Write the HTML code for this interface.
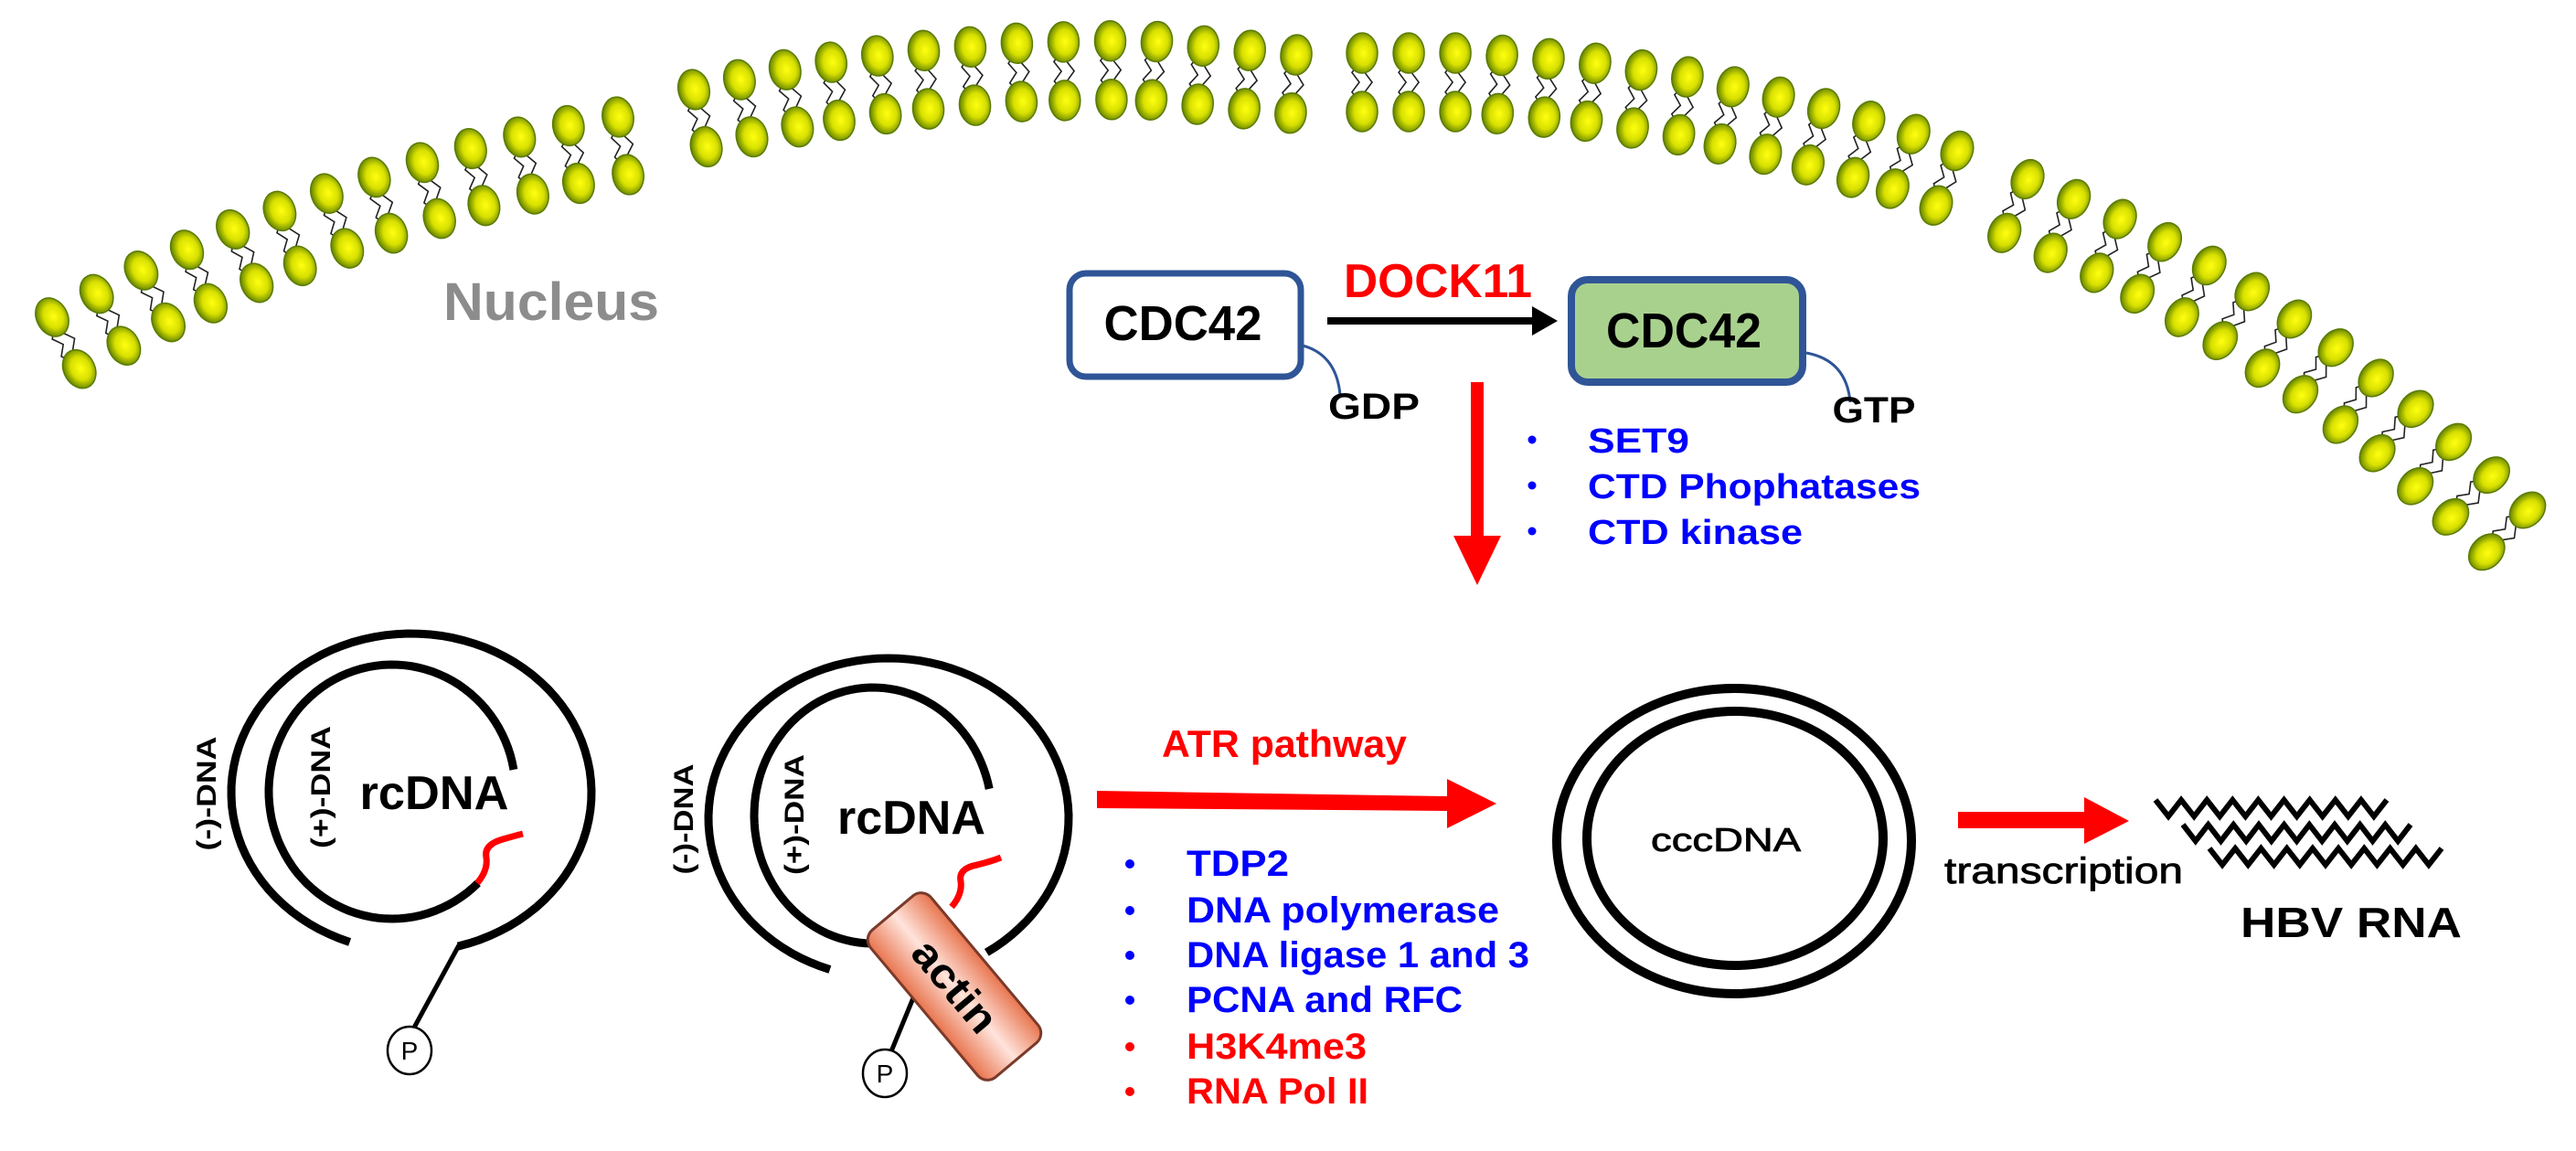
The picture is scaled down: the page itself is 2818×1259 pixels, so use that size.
<!DOCTYPE html>
<html><head><meta charset="utf-8"><style>
html,body{margin:0;padding:0;background:#fff;overflow:hidden}
svg{display:block}
text{font-family:"Liberation Sans",Arial,sans-serif;font-weight:bold}
</style></head><body>
<svg id="s" xmlns="http://www.w3.org/2000/svg" width="2818" height="1259" viewBox="0 0 2818 1259">
<defs>
<radialGradient id="hg" cx="50%" cy="45%" r="55%">
<stop offset="0" stop-color="#ffff10"/><stop offset="0.55" stop-color="#d8e000"/><stop offset="1" stop-color="#5f8000"/>
</radialGradient>
<linearGradient id="ag" x1="0" y1="0" x2="0" y2="1">
<stop offset="0" stop-color="#e8744e"/><stop offset="0.5" stop-color="#ffe4dc"/><stop offset="1" stop-color="#e8744e"/>
</linearGradient>
</defs>
<g id="mem"></g>

<text x="603" y="350" font-size="58" fill="#8c8c8c" text-anchor="middle" textLength="236" lengthAdjust="spacingAndGlyphs">Nucleus</text>

<rect x="1170" y="299" width="253" height="113" rx="18" fill="#fff" stroke="#2f5597" stroke-width="7"/>
<text x="1294" y="372" font-size="54" text-anchor="middle" textLength="173" lengthAdjust="spacingAndGlyphs">CDC42</text>
<path d="M1425 378 Q1462 388 1466 432" fill="none" stroke="#2f5597" stroke-width="3"/>
<text x="1503" y="458" font-size="40" text-anchor="middle" textLength="100" lengthAdjust="spacingAndGlyphs">GDP</text>
<line x1="1452" y1="351" x2="1682" y2="351" stroke="#000" stroke-width="8"/>
<polygon points="1676,335 1704,351 1676,367" fill="#000"/>
<text x="1573" y="325" font-size="52" fill="#ff0000" text-anchor="middle" textLength="206" lengthAdjust="spacingAndGlyphs">DOCK11</text>
<rect x="1719" y="306" width="253" height="112" rx="18" fill="#a9d18e" stroke="#2f5597" stroke-width="8"/>
<text x="1842" y="380" font-size="54" text-anchor="middle" textLength="170" lengthAdjust="spacingAndGlyphs">CDC42</text>
<path d="M1976 386 Q2020 394 2024 440" fill="none" stroke="#2f5597" stroke-width="3"/>
<text x="2050" y="462" font-size="40" text-anchor="middle" textLength="91" lengthAdjust="spacingAndGlyphs">GTP</text>
<rect x="1609" y="418" width="14" height="172" fill="#ff0000"/>
<polygon points="1590,586 1642,586 1616,640" fill="#ff0000"/>
<g font-size="38" fill="#0000ff">
<circle cx="1676" cy="481" r="4.5"/><text x="1737" y="495" textLength="111" lengthAdjust="spacingAndGlyphs">SET9</text>
<circle cx="1676" cy="531" r="4.5"/><text x="1737" y="545" textLength="364" lengthAdjust="spacingAndGlyphs">CTD Phophatases</text>
<circle cx="1676" cy="581" r="4.5"/><text x="1737" y="595" textLength="235" lengthAdjust="spacingAndGlyphs">CTD kinase</text>
</g>

<g id="dna" fill="none" stroke="#000" stroke-width="9"></g>

<text transform="translate(236,868) rotate(-90)" font-size="30" text-anchor="middle" textLength="125" lengthAdjust="spacingAndGlyphs">(-)-DNA</text>
<text transform="translate(361,861) rotate(-90)" font-size="30" text-anchor="middle" textLength="134" lengthAdjust="spacingAndGlyphs">(+)-DNA</text>
<text x="475" y="885" font-size="52" text-anchor="middle" textLength="163" lengthAdjust="spacingAndGlyphs">rcDNA</text>
<text transform="translate(758,896) rotate(-90)" font-size="30" text-anchor="middle" textLength="121" lengthAdjust="spacingAndGlyphs">(-)-DNA</text>
<text transform="translate(879,891) rotate(-90)" font-size="30" text-anchor="middle" textLength="132" lengthAdjust="spacingAndGlyphs">(+)-DNA</text>
<text x="997" y="912" font-size="52" text-anchor="middle" textLength="162" lengthAdjust="spacingAndGlyphs">rcDNA</text>

<g id="top"></g>

<text x="1405" y="828" font-size="42" fill="#ff0000" text-anchor="middle" textLength="268" lengthAdjust="spacingAndGlyphs">ATR pathway</text>
<polygon points="1200,865 1583,871 1583,852 1637,879 1583,906 1583,887 1200,884" fill="#ff0000"/>
<g font-size="40">
<g fill="#0000ff">
<circle cx="1236" cy="945" r="5"/><text x="1298" y="958" textLength="112" lengthAdjust="spacingAndGlyphs">TDP2</text>
<circle cx="1236" cy="996" r="5"/><text x="1298" y="1009" textLength="342" lengthAdjust="spacingAndGlyphs">DNA polymerase</text>
<circle cx="1236" cy="1045" r="5"/><text x="1298" y="1058" textLength="375" lengthAdjust="spacingAndGlyphs">DNA ligase 1 and 3</text>
<circle cx="1236" cy="1094" r="5"/><text x="1298" y="1107" textLength="302" lengthAdjust="spacingAndGlyphs">PCNA and RFC</text>
</g>
<g fill="#ff0000">
<circle cx="1236" cy="1145" r="5"/><text x="1298" y="1158" textLength="197" lengthAdjust="spacingAndGlyphs">H3K4me3</text>
<circle cx="1236" cy="1194" r="5"/><text x="1298" y="1207" textLength="199" lengthAdjust="spacingAndGlyphs">RNA Pol II</text>
</g>
</g>

<ellipse cx="1897" cy="920" rx="194" ry="167" fill="none" stroke="#000" stroke-width="10"/>
<ellipse cx="1898" cy="917" rx="162" ry="139" fill="none" stroke="#000" stroke-width="10"/>
<text x="1888" y="931" font-size="36" text-anchor="middle" textLength="164" lengthAdjust="spacingAndGlyphs" style="font-weight:normal;stroke:#000;stroke-width:0.8">cccDNA</text>

<polygon points="2142,888 2280,888 2280,872 2329,898 2280,923 2280,906 2142,906" fill="#ff0000"/>
<text x="2127" y="966" font-size="40" textLength="261" lengthAdjust="spacingAndGlyphs" style="font-weight:normal;stroke:#000;stroke-width:0.8">transcription</text>
<g id="waves" fill="none" stroke="#000" stroke-width="6"></g>
<text x="2572" y="1025" font-size="46" text-anchor="middle" textLength="242" lengthAdjust="spacingAndGlyphs">HBV RNA</text>
</svg>
<script>
(function(){
var NS="http://www.w3.org/2000/svg";
var mem=document.getElementById('mem');
function el(t,a,p){var e=document.createElementNS(NS,t);for(var k in a)e.setAttribute(k,a[k]);p.appendChild(e);return e;}
var segs=[
 {p:[[57,347],[160,293],[268,245],[386,201],[504,165],[619,138],[676,128]],n:13},
 {p:[[759,98],[874,73],[989,57],[1116,47],[1250,44],[1418,60]],n:14},
 {p:[[1490,58],[1610,58],[1730,67],[1852,85],[1971,112],[2089,145],[2141,165]],n:14},
 {p:[[2218,196],[2327,243],[2433,299],[2539,368],[2634,440],[2724,518],[2765,558]],n:13}
];
var heads=[];
segs.forEach(function(s){
 var P=s.p;
 var L=[0];for(var i=1;i<P.length;i++){L.push(L[i-1]+Math.hypot(P[i][0]-P[i-1][0],P[i][1]-P[i-1][1]));}
 var T=L[L.length-1];
 for(var j=0;j<s.n;j++){
  var d=T*j/(s.n-1),i=1;while(i<P.length-1&&L[i]<d)i++;
  var f=(d-L[i-1])/(L[i]-L[i-1]);
  var x=P[i-1][0]+f*(P[i][0]-P[i-1][0]),y=P[i-1][1]+f*(P[i][1]-P[i-1][1]);
  var dx=P[i][0]-P[i-1][0],dy=P[i][1]-P[i-1][1],m=Math.hypot(dx,dy);dx/=m;dy/=m;
  var nx=-dy,ny=dx,off=64;
  var x2=x+nx*off,y2=y+ny*off;
  var ang=Math.atan2(ny,nx)*180/Math.PI;
  for(var t=-1;t<=1;t+=2){
   var bx=x+dx*t*7,by=y+dy*t*7,pts=[];
   for(var k=0;k<=6;k++){var g=k/6,w=(k%2?4:-4);pts.push((bx+nx*off*g+dx*w).toFixed(1)+","+(by+ny*off*g+dy*w).toFixed(1));}
   el('polyline',{points:pts.join(' '),fill:'none',stroke:'#222','stroke-width':1.6},mem);
  }
  heads.push([x,y,ang]);heads.push([x2,y2,ang]);
 }
});
heads.forEach(function(h){
 el('ellipse',{cx:0,cy:0,rx:22,ry:17,fill:'url(#hg)',stroke:'#5a7a00','stroke-width':1.5,transform:'translate('+h[0].toFixed(1)+','+h[1].toFixed(1)+') rotate('+h[2].toFixed(1)+')'},mem);
});
var dna=document.getElementById('dna');
function arc(cx,cy,rx,ry,a0,a1){
 var pts=[],n=90;for(var i=0;i<=n;i++){var a=(a0+(a1-a0)*i/n)*Math.PI/180;pts.push((cx+rx*Math.cos(a)).toFixed(1)+","+(cy+ry*Math.sin(a)).toFixed(1));}
 return el('polyline',{points:pts.join(' ')},dna);
}
arc(450,867,197,174,110,435);
arc(429,866,135,139,350,46);
el('path',{d:'M522 966 q12 -14 10 -28 q-3 -14 18 -20 q14 -4 22 -6',stroke:'#ff0000','stroke-width':7},dna);
el('line',{x1:502,y1:1034,x2:453,y2:1124,'stroke-width':5},dna);
arc(972,895,197,175,109,417);
arc(955,892,130,140,348,62);
el('path',{d:'M1041 992 q12 -14 10 -28 q-3 -14 18 -18 q16 -4 26 -8',stroke:'#ff0000','stroke-width':7},dna);
el('line',{x1:975,y1:1150,x2:1012,y2:1060,'stroke-width':5},dna);
var top=document.getElementById('top');
var g=el('g',{transform:'translate(1044,1079) rotate(50)'},top);
el('rect',{x:-105,y:-43,width:210,height:86,rx:14,fill:'url(#ag)',stroke:'#7a3a2a','stroke-width':3},g);
var tx=el('text',{x:0,y:15,'font-size':46,'text-anchor':'middle',textLength:118,lengthAdjust:'spacingAndGlyphs'},g);tx.textContent='actin';
[[448,1149],[968,1174]].forEach(function(p){
 el('ellipse',{cx:p[0],cy:p[1],rx:24,ry:26,fill:'#fff',stroke:'#000','stroke-width':2.5},top);
 var t=el('text',{x:p[0],y:p[1]+10,'font-size':28,'text-anchor':'middle',style:'font-weight:normal'},top);t.textContent='P';
});
var wv=document.getElementById('waves');
[[2358,2611,884],[2388,2637,911],[2417,2671,937]].forEach(function(r){
 var pts=[],n=18;for(var i=0;i<=n;i++){pts.push((r[0]+(r[1]-r[0])*i/n).toFixed(1)+","+(r[2]+(i%2?9:-9)));}
 el('polyline',{points:pts.join(' ')},wv);
});
})();
</script>
</body></html>
